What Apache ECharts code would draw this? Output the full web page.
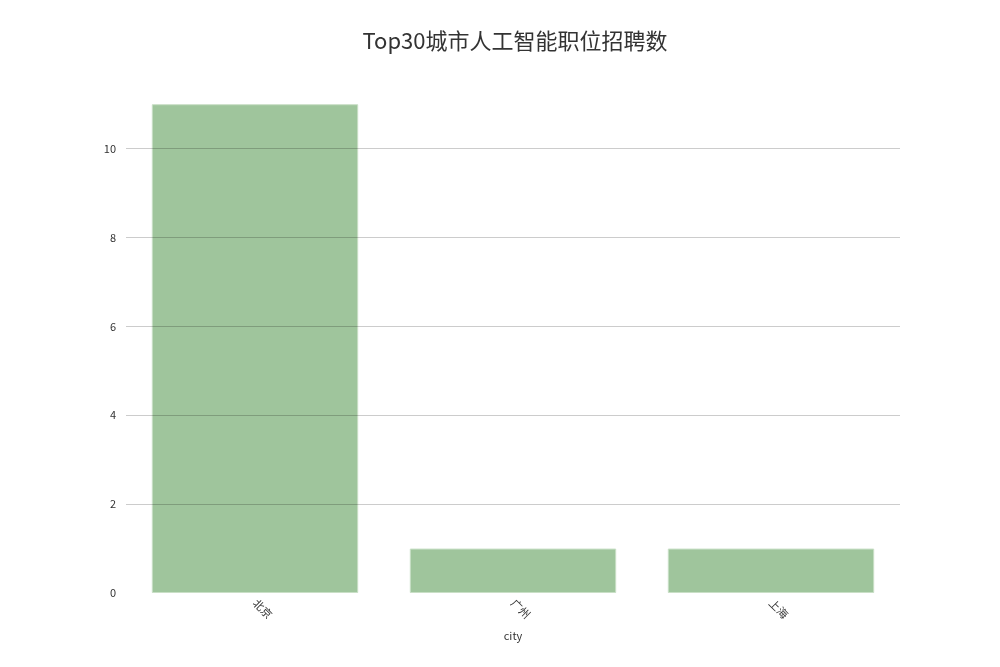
<!DOCTYPE html>
<html>
<head>
<meta charset="utf-8">
<script src="https://cdn.jsdelivr.net/npm/echarts@6/dist/echarts.min.js"></script>
<style>
  html, body { margin: 0; padding: 0; background: #fff; }
  #main { width: 1000px; height: 667px; }
</style>
</head>
<body>
<div id="main"></div>
<script>
var cities = ['北京', '广州', '上海'];
var counts = [11, 1, 1];
var yTicks = [0, 2, 4, 6, 8, 10];

var myChart = echarts.init(document.getElementById('main'));
var font = '"Noto Sans CJK SC", "DejaVu Sans", sans-serif';
// 网格线画在柱子上面(半透明), 0 不画
var gridLines = yTicks.filter(function (v) { return v > 0; }).map(function (v) {
    return { yAxis: v };
});
var option = {
    backgroundColor: '#fff',
    title: {
        text: 'Top30城市人工智能职位招聘数',
        left: 510,
        textAlign: 'center',
        top: 25,
        textStyle: { fontSize: 22, fontWeight: 'normal', color: '#333', fontFamily: font }
    },
    grid: { left: 126, right: 100, top: 82, bottom: 74 },
    xAxis: {
        type: 'category',
        data: cities,
        name: 'city',
        nameLocation: 'middle',
        nameGap: 37,
        nameTextStyle: { fontSize: 11, color: '#333', fontFamily: font },
        axisLine: { show: false },
        axisTick: { show: false },
        axisLabel: {
            rotate: -45,
            margin: 8,
            fontSize: 11,
            color: '#333',
            fontFamily: font
        }
    },
    yAxis: {
        type: 'value',
        min: 0,
        max: 11.5,
        interval: 2,
        axisLine: { show: false },
        axisTick: { show: false },
        axisLabel: {
            margin: 10,
            fontSize: 11,
            color: '#333',
            fontFamily: font,
            formatter: function (v) { return yTicks.indexOf(v) >= 0 ? v : ''; }
        },
        splitLine: { show: false }
    },
    series: [{
        type: 'bar',
        data: counts,
        barWidth: '80%',
        itemStyle: {
            color: '#9fc59c',
            borderColor: '#c9dfc6',
            borderWidth: 1
        },
        markLine: {
            silent: true,
            symbol: 'none',
            label: { show: false },
            lineStyle: { color: 'rgba(0,0,0,0.2)', type: 'solid', width: 1 },
            data: gridLines
        }
    }]
};
myChart.setOption(option);
</script>
</body>
</html>
